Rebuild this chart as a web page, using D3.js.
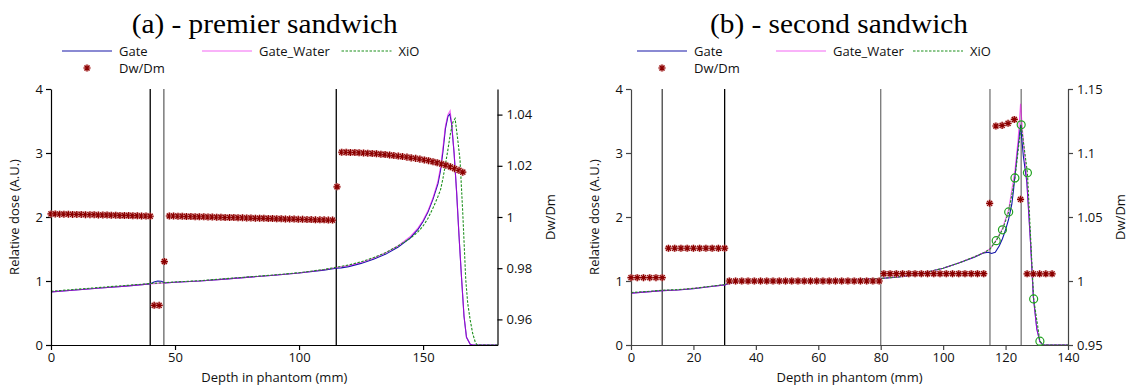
<!DOCTYPE html>
<html><head><meta charset="utf-8">
<script src="https://cdn.jsdelivr.net/npm/d3@7"></script>
<style>body{margin:0;background:#fff}svg text{font-family:"Open Sans","Noto Sans",sans-serif}</style>
</head><body>
<svg id="c" width="1129" height="387"></svg>
<script>
// ---------------- DATA ----------------
const titles = ["(a) - premier sandwich", "(b) - second sandwich"];
const seriesNames = ["Gate", "Gate_Water", "XiO", "Dw/Dm"];
const xLabel = "Depth in phantom (mm)";
const yLabel = "Relative dose (A.U.)";
const y2Label = "Dw/Dm";

// Panel (a)
const xTicksA = [0, 50, 100, 150];
const doseTicks = [0, 1, 2, 3, 4];
const dwTicksA = [0.96, 0.98, 1, 1.02, 1.04];
const layersA = [40, 45.5, 115];
const gateA = [[0,0.83],[10,0.86],[20,0.89],[30,0.92],[40,0.955],[41.5,0.985],[43,1.0],[44.5,0.995],[46,0.97],[50,0.98],[60,1.0],[70,1.03],[80,1.06],[90,1.09],[100,1.125],[110,1.17],[115,1.2],[117,1.205],[120,1.225],[125,1.275],[130,1.34],[135,1.42],[140,1.53],[145,1.68],[148,1.81],[150,1.93],[152,2.08],[154,2.28],[156,2.52],[157,2.72],[158,3.02],[159,3.38],[160,3.57],[160.8,3.61],[161.5,3.45],[162.5,3.0],[163.5,2.4],[164.5,1.7],[165.5,1.05],[166.5,0.45],[167.5,0.12],[169,0.01],[170,0],[180,0]];
const waterA = [[0,0.83],[10,0.86],[20,0.89],[30,0.92],[40,0.955],[46,0.97],[50,0.98],[60,1.0],[70,1.03],[80,1.06],[90,1.09],[100,1.125],[110,1.175],[115,1.21],[120,1.24],[125,1.29],[130,1.355],[135,1.44],[140,1.55],[145,1.7],[148,1.83],[150,1.95],[152,2.1],[154,2.3],[156,2.56],[157,2.77],[158,3.08],[159,3.42],[160,3.6],[160.9,3.66],[161.5,3.47],[162.5,3.0],[163.5,2.4],[164.5,1.7],[165.5,1.05],[166.5,0.45],[167.5,0.12],[169,0.01],[170,0],[180,0]];
const xioA = [[0,0.84],[10,0.87],[20,0.9],[30,0.93],[40,0.96],[50,0.985],[60,1.005],[70,1.035],[80,1.065],[90,1.095],[100,1.13],[110,1.18],[115,1.215],[120,1.25],[125,1.3],[130,1.365],[135,1.445],[140,1.55],[145,1.67],[148,1.77],[150,1.86],[152,1.98],[154,2.14],[156,2.32],[157,2.42],[158,2.6],[159,2.82],[160,3.05],[161,3.3],[162,3.48],[162.9,3.54],[164,3.2],[164.9,2.89],[166,2.06],[167.2,1.02],[168,0.65],[169,0.39],[170,0.18],[171,0.05],[171.6,0.01],[172,0],[180,0]];
const dwdmA = [[0,1.0012],[1.7,1.0012],[3.5,1.0011],[5.2,1.0011],[7,1.0011],[8.7,1.001],[10.4,1.001],[12.2,1.001],[13.9,1.0009],[15.7,1.0009],[17.4,1.0009],[19.1,1.0008],[20.9,1.0008],[22.6,1.0008],[24.3,1.0007],[26.1,1.0007],[27.8,1.0006],[29.6,1.0006],[31.3,1.0006],[33,1.0005],[34.8,1.0005],[36.5,1.0004],[38.3,1.0004],[40,1.0003],
  [41.6,0.9655],[43.6,0.9655],[45.7,0.9826],
  [47.7,1.0004],[49.4,1.0004],[51.2,1.0003],[52.9,1.0003],[54.6,1.0002],[56.4,1.0002],[58.1,1.0001],[59.8,1.0001],[61.6,1.0001],[63.3,1.0],[65,1.0],[66.8,0.9999],[68.5,0.9999],[70.2,0.9998],[72,0.9998],[73.7,0.9998],[75.4,0.9997],[77.2,0.9997],[78.9,0.9996],[80.6,0.9996],[82.4,0.9995],[84.1,0.9995],[85.8,0.9995],[87.6,0.9994],[89.3,0.9994],[91,0.9993],[92.8,0.9993],[94.5,0.9992],[96.2,0.9992],[98,0.9992],[99.7,0.9991],[101.4,0.9991],[103.2,0.999],[104.9,0.999],[106.6,0.9989],[108.4,0.9989],[110.1,0.9989],[111.8,0.9988],[113.5,0.9988],
  [115.3,1.0118],
  [117.2,1.0253],[119,1.0253],[120.7,1.0252],[122.5,1.0252],[124.2,1.0251],[126,1.025],[127.7,1.0249],[129.5,1.0248],[131.2,1.0247],[133,1.0245],[134.7,1.0244],[136.5,1.0242],[138.2,1.024],[140,1.0238],[141.7,1.0236],[143.5,1.0234],[145.2,1.0231],[147,1.0229],[148.7,1.0226],[150.5,1.0223],[152.2,1.022],[154,1.0216],[155.7,1.0212],[157.5,1.0207],[159.2,1.0202],[161,1.0196],[162.7,1.0189],[164.5,1.0182],[166,1.0175]];

// Panel (b)
const xTicksB = [0, 20, 40, 60, 80, 100, 120, 140];
const dwTicksB = [0.95, 1, 1.05, 1.1, 1.15];
const layersB = [10, 30, 80, 115, 125];
const gateB = [[0,0.81],[5,0.83],[10,0.85],[15,0.86],[20,0.88],[25,0.91],[30,0.94],[32,0.97],[34,0.99],[40,1.0],[50,1.0],[60,1.01],[70,1.02],[80,1.04],[85,1.06],[90,1.09],[95,1.14],[100,1.2],[105,1.28],[110,1.37],[113,1.44],[114.5,1.45],[115.5,1.43],[116.7,1.45],[118,1.55],[119,1.66],[120,1.8],[121,1.97],[122,2.2],[122.5,2.4],[123.8,3.02],[124.8,3.44],[125.7,2.95],[126.8,2.55],[128,1.6],[128.9,0.75],[130,0.25],[131,0.05],[132,0],[140,0]];
const waterB = [[0,0.81],[5,0.83],[10,0.85],[15,0.86],[20,0.885],[25,0.91],[30,0.94],[32,0.97],[34,0.99],[40,1.0],[50,1.0],[60,1.01],[70,1.02],[80,1.04],[85,1.06],[90,1.09],[95,1.14],[100,1.2],[105,1.28],[110,1.38],[113,1.44],[115,1.5],[117,1.64],[119,1.82],[121,2.12],[123,2.72],[124,3.2],[124.8,3.77],[125.5,3.3],[126.8,2.6],[128,1.6],[128.9,0.75],[130,0.25],[131,0.05],[132,0],[140,0]];
const xioB = [[0,0.82],[5,0.835],[10,0.855],[15,0.865],[20,0.885],[25,0.915],[30,0.945],[32,0.975],[34,0.995],[40,1.0],[50,1.0],[60,1.01],[70,1.02],[80,1.04],[85,1.06],[90,1.09],[95,1.14],[100,1.2],[105,1.28],[110,1.38],[113,1.44],[115,1.5],[117,1.63],[119,1.8],[121,2.08],[123,2.61],[125,3.44],[127,2.69],[129,0.72],[131,0.06],[132,0],[140,0]];
const xioMarksB = [[117,1.63],[119,1.8],[121,2.08],[123,2.61],[125,3.44],[127,2.69],[129,0.72],[131,0.06]];
const dwdmB = [[0,1.0026],[2,1.0026],[4,1.0026],[6,1.0026],[8,1.0026],[10,1.0026],
  [12,1.0256],[14,1.0256],[16,1.0256],[18,1.0256],[20,1.0256],[22,1.0256],[24,1.0256],[26,1.0256],[28,1.0256],[30,1.0256],
  [31.5,1.0],[33.5,1.0],[35.5,1.0],[37.5,1.0],[39.5,1.0],[41.5,1.0],[43.5,1.0],[45.5,1.0],[47.5,1.0],[49.5,1.0],[51.5,1.0],[53.5,1.0],[55.5,1.0],[57.5,1.0],[59.5,1.0],[61.5,1.0],[63.5,1.0],[65.5,1.0],[67.5,1.0],[69.5,1.0],[71.5,1.0],[73.5,1.0],[75.5,1.0],[77.5,1.0],[79.5,1.0],
  [81,1.0057],[83,1.0057],[85,1.0057],[87,1.0057],[89,1.0057],[91,1.0057],[93,1.0057],[95,1.0057],[97,1.0057],[99,1.0057],[101,1.0057],[103,1.0057],[105,1.0057],[107,1.0057],[109,1.0057],[111,1.0057],[113,1.0057],
  [114.9,1.0607],
  [116.9,1.1211],[118.9,1.1216],[120.8,1.1232],[122.8,1.1262],
  [124.8,1.0638],
  [126.9,1.0056],[128.9,1.0056],[130.9,1.0056],[132.9,1.0056],[134.9,1.0056]];

// ---------------- STYLE ----------------
const C = {gate:"#1616a8", water:"#ee00ee", xio:"#1d901d", star:"#8b0000", halo:"#e2a2a2", circ:"#22a322"};
const svg = d3.select("#c");
svg.append("rect").attr("width",1129).attr("height",387).attr("fill","#fff");

const star8 = {draw(ctx, size){ const r=Math.sqrt(size)/2, d=r*Math.SQRT1_2;
  ctx.moveTo(-r,0);ctx.lineTo(r,0);ctx.moveTo(0,-r);ctx.lineTo(0,r);
  ctx.moveTo(-d,-d);ctx.lineTo(d,d);ctx.moveTo(-d,d);ctx.lineTo(d,-d);}};
const starPath = d3.symbol().type(star8).size(50)();

function drawStar(g, x, y){
  g.append("path").attr("d",starPath).attr("transform",`translate(${x},${y})`)
    .attr("fill","none").attr("stroke",C.halo).attr("stroke-width",2.6).attr("opacity",0.75);
  g.append("path").attr("d",starPath).attr("transform",`translate(${x},${y})`)
    .attr("fill","none").attr("stroke",C.star).attr("stroke-width",1.2);
}

function panel(o){
  const x = d3.scaleLinear().domain(o.xDom).range([o.x0, o.x1]);
  const y = d3.scaleLinear().domain([0,4]).range([345, 89]);
  const y2 = d3.scaleLinear().domain(o.y2Dom).range([345, 89]);
  const g = svg.append("g");
  const fmt = d3.format("~g");

  // layer boundaries
  o.layers.forEach((L,i)=>{
    g.append("line").attr("x1",x(L)).attr("x2",x(L)).attr("y1",y(4)).attr("y2",y(0))
      .attr("stroke",o.layerColors[i]).attr("stroke-width",1.3);
  });

  const line = d3.line().x(d=>x(d[0])).y(d=>y(d[1]));
  g.append("path").datum(o.gate).attr("d",line).attr("fill","none").attr("stroke",C.gate).attr("stroke-width",1.1);
  g.append("path").datum(o.water).attr("d",line).attr("fill","none").attr("stroke",C.water).attr("stroke-width",1.1).attr("opacity",0.6);
  g.append("path").datum(o.xio).attr("d",line).attr("fill","none").attr("stroke",C.xio).attr("stroke-width",1.1).attr("stroke-dasharray","2.5,1.5");

  // axes
  const ax = g.append("g").attr("transform","translate(0,345)")
    .call(d3.axisBottom(x).tickValues(o.xTicks).tickFormat(fmt).tickSize(5).tickPadding(3).tickSizeOuter(0));
  const ay = g.append("g").attr("transform",`translate(${o.x0},0)`)
    .call(d3.axisLeft(y).tickValues(doseTicks).tickFormat(fmt).tickSize(5).tickPadding(3).tickSizeOuter(0));
  const ay2 = g.append("g").attr("transform",`translate(${o.x1},0)`)
    .call(d3.axisRight(y2).tickValues(o.dwTicks).tickFormat(fmt).tickSize(5).tickPadding(4).tickSizeOuter(0));
  [ax,ay,ay2].forEach(a=>{
    a.selectAll("path,line").attr("stroke",o.axisColor).attr("stroke-width",1.2);
    a.selectAll("text").attr("fill","#111").style("font-size","13px").style("font-family","'Open Sans'");
  });

  // Dw/Dm stars
  const sg = g.append("g");
  o.dwdm.forEach(d=>drawStar(sg, x(d[0]), y2(d[1])));
  // XiO circle markers
  if (o.marks) g.selectAll("circle.m").data(o.marks).join("circle")
    .attr("cx",d=>x(d[0])).attr("cy",d=>y(d[1])).attr("r",4)
    .attr("fill","none").attr("stroke",C.circ).attr("stroke-width",1.2);

  // labels
  const cx = (o.x0+o.x1)/2;
  g.append("text").attr("x",cx).attr("y",382).attr("text-anchor","middle").style("font-size","13px").attr("fill","#111").text(xLabel);
  g.append("text").attr("transform",`translate(${o.x0-32},217) rotate(-90)`).attr("text-anchor","middle").style("font-size","13px").attr("fill","#111").text(yLabel);
  g.append("text").attr("transform",`translate(${o.x1+57},217) rotate(-90)`).attr("text-anchor","middle").style("font-size","13px").attr("fill","#111").text(y2Label);

  // title
  g.append("text").attr("x",o.titleX).attr("y",33).attr("text-anchor","middle")
    .style("font-family","'Liberation Serif',serif").style("font-size","28px").attr("fill","#000")
    .attr("textLength",o.titleW).attr("lengthAdjust","spacingAndGlyphs").text(o.title);

  // legend
  const lg = g.append("g");
  const lc = [C.gate, C.water, C.xio];
  o.leg.forEach((lx,i)=>{
    lg.append("line").attr("x1",lx).attr("x2",lx+50).attr("y1",51).attr("y2",51)
      .attr("stroke",lc[i]).attr("stroke-width",1.2).attr("opacity",i==1?0.6:1)
      .attr("stroke-dasharray", i==2?"2.5,1.5":null);
    lg.append("text").attr("x",lx+57).attr("y",55.5).style("font-size","13px").attr("fill","#111").text(seriesNames[i]);
  });
  drawStar(lg, o.leg[0]+25, 68);
  lg.append("text").attr("x",o.leg[0]+57).attr("y",72.5).style("font-size","13px").attr("fill","#111").text(seriesNames[3]);
}

panel({xDom:[0,180], x0:51, x1:497.5, y2Dom:[0.95,1.05], xTicks:xTicksA, dwTicks:dwTicksA,
  layers:layersA, layerColors:["#000","#666","#000"], axisColor:"#000",
  gate:gateA, water:waterA, xio:xioA, dwdm:dwdmA, marks:null,
  title:titles[0], titleX:264.7, titleW:266, leg:[62,202,341.5]});
panel({xDom:[0,140], x0:631, x1:1068, y2Dom:[0.95,1.15], xTicks:xTicksB, dwTicks:dwTicksB,
  layers:layersB, layerColors:["#444","#000","#777","#777","#777"], axisColor:"#444",
  gate:gateB, water:waterB, xio:xioB, dwdm:dwdmB, marks:xioMarksB,
  title:titles[1], titleX:839, titleW:258, leg:[637,776,913]});
</script>
</body></html>
